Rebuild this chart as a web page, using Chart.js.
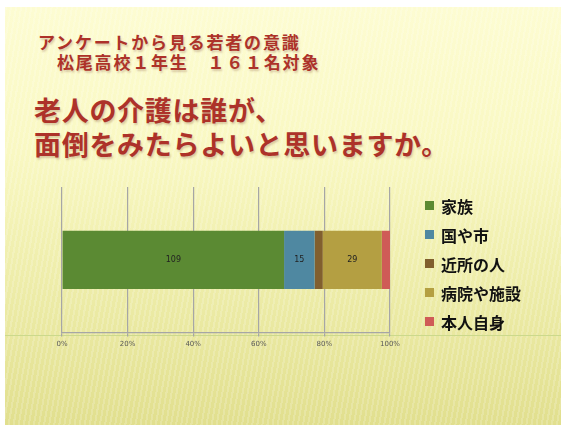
<!DOCTYPE html>
<html>
<head>
<meta charset="utf-8">
<script src="https://cdn.jsdelivr.net/npm/chart.js@4"></script>
<style>
  html, body { margin: 0; padding: 0; background: #fff; }
  body { width: 565px; height: 425px; position: relative; overflow: hidden;
         font-family: "Noto Sans CJK JP", "Noto Sans", sans-serif; }
  #slide {
    position: absolute; left: 5px; top: 7px; width: 556px; height: 418px;
    background:
      repeating-linear-gradient(100deg, rgba(255,255,255,0.18) 0px, rgba(255,255,255,0.18) 2px, rgba(255,255,255,0) 2px, rgba(255,255,255,0) 5px),
      linear-gradient(180deg, #fdfcd2 0%, #f9f8c2 35%, #eeedaa 65%, #e1df8e 100%);
  }
  .ttl { position: absolute; color: #ad3229; font-weight: bold; white-space: nowrap;
         text-shadow: 1px 2px 2px rgba(120,60,40,0.25); }
  #t1 { left: 38px; top: 29px; font-size: 17px; letter-spacing: 1.8px; }
  #t2 { left: 57px; top: 49px; font-size: 17px; letter-spacing: 1.8px; }
  #t3 { left: 34px; top: 90px; font-size: 27px; letter-spacing: 0.7px; }
  #t4 { left: 34px; top: 124px; font-size: 27px; letter-spacing: 0.7px; }
  #rule { position: absolute; left: 5px; top: 335px; width: 556px; height: 1px; background: #cbd98c; }
  #wrap { position: absolute; left: 0; top: 175px; width: 565px; height: 180px; }
  #legend { position: absolute; left: 425px; top: 191px; }
  .li { height: 29px; display: flex; align-items: center; }
  .li span.box { width: 9px; height: 9px; margin-right: 7px; }
  .li span.txt { font-size: 16px; font-weight: bold; color: #111; }
</style>
</head>
<body>
<div id="slide"></div>
<div id="rule"></div>
<div class="ttl" id="t1">アンケートから見る若者の意識</div>
<div class="ttl" id="t2">松尾高校１年生　１６１名対象</div>
<div class="ttl" id="t3">老人の介護は誰が、</div>
<div class="ttl" id="t4">面倒をみたらよいと思いますか。</div>
<div id="wrap"><canvas id="chart"></canvas></div>
<div id="legend"></div>
<script>
// Survey answers (counts out of 161)
const categories = ["家族", "国や市", "近所の人", "病院や施設", "本人自身"];
const counts = [109, 15, 4, 29, 4];
const colors = ["#5b8a33", "#4f88a1", "#815f2e", "#b49f42", "#cf5b57"];
const tickLabels = ["0%", "20%", "40%", "60%", "80%", "100%"];

const total = counts.reduce((a, b) => a + b, 0);

// value labels in the middle of the wide segments
const barLabels = {
    id: "barLabels",
    afterDatasetsDraw(chart) {
        const ctx = chart.ctx;
        ctx.save();
        ctx.font = "8px 'DejaVu Sans', sans-serif";
        ctx.fillStyle = "#222";
        ctx.textAlign = "center";
        ctx.textBaseline = "middle";
        chart.data.datasets.forEach((ds, i) => {
            if (counts[i] < 10) return;
            const bar = chart.getDatasetMeta(i).data[0];
            ctx.fillText(String(counts[i]), (bar.x + bar.base) / 2, bar.y);
        });
        ctx.restore();
    }
};

new Chart(document.getElementById("chart"), {
    type: "bar",
    data: {
        labels: [""],
        datasets: categories.map((c, i) => ({
            label: c,
            data: [counts[i] / total * 100],
            backgroundColor: colors[i],
            borderWidth: 0,
            barPercentage: 0.4,
            categoryPercentage: 1
        }))
    },
    options: {
        indexAxis: "y",
        responsive: true,
        maintainAspectRatio: false,
        animation: false,
        layout: { padding: { left: 54, right: 175, top: 12, bottom: 4 } },
        plugins: { legend: { display: false }, tooltip: { enabled: false } },
        scales: {
            x: {
                stacked: true,
                min: 0,
                max: 100,
                ticks: {
                    stepSize: 20,
                    color: "#595959",
                    font: { size: 7, family: "'DejaVu Sans', sans-serif" },
                    padding: 3,
                    callback: (v, i) => tickLabels[i]
                },
                grid: { color: "#a6a6a6", lineWidth: 1.2, tickLength: 4, drawTicks: true },
                border: { color: "#a6a6a6", width: 1.2 }
            },
            y: {
                stacked: true,
                ticks: { display: false },
                grid: { display: false },
                border: { display: false }
            }
        }
    },
    plugins: [barLabels]
});

// legend from the same arrays
const legend = document.getElementById("legend");
categories.forEach((c, i) => {
    const row = document.createElement("div");
    row.className = "li";
    row.innerHTML = '<span class="box" style="background:' + colors[i] + '"></span><span class="txt">' + c + '</span>';
    legend.appendChild(row);
});
</script>
</body>
</html>
